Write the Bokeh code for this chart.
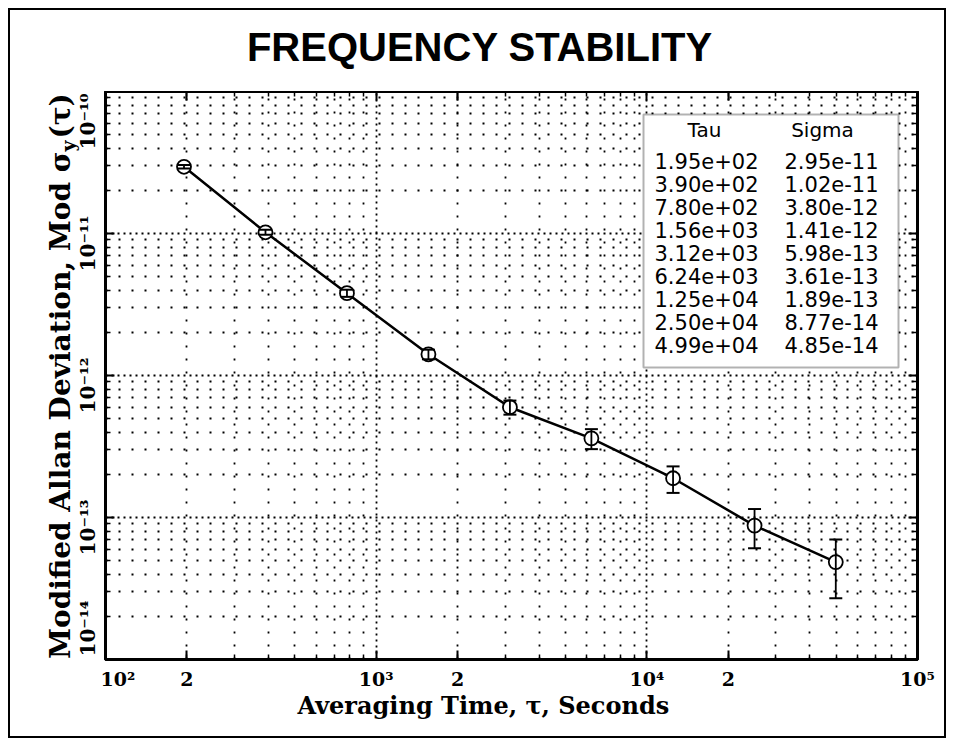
import numpy as np
from bokeh.plotting import figure
from bokeh.layouts import row, column
from bokeh.models import (Range1d, FixedTicker, LogAxis, ColumnDataSource, Whisker, TeeHead,
                          Label, BoxAnnotation, CustomJSTickFormatter, Title)
from bokeh.embed import file_html
from bokeh.resources import INLINE

# ---- data ----
tau = [195, 390, 780, 1560, 3120, 6240, 12500, 25000, 49900]
sigma = [2.95e-11, 1.02e-11, 3.80e-12, 1.41e-12, 5.98e-13, 3.61e-13, 1.89e-13, 8.77e-14, 4.85e-14]
sigma_err = [8.3e-13, 4.1e-13, 2.2e-13, 1.1e-13, 6.8e-14, 5.8e-14, 4.0e-14, 2.7e-14, 2.15e-14]

x_tick_pos = [100, 200, 1000, 2000, 10000, 20000, 100000]
x_tick_labels = ["10²", "2", "10³", "2", "10⁴", "2", "10⁵"]
x_decades = [100, 1000, 10000, 100000]
y_tick_pos = [1e-14, 1e-13, 1e-12, 1e-11, 1e-10]
y_tick_labels = ["10⁻¹⁴", "10⁻¹³", "10⁻¹²", "10⁻¹¹", "10⁻¹⁰"]

title_text = "FREQUENCY STABILITY"
x_label = "Averaging Time, τ, Seconds"
y_label_main = "Modified Allan Deviation, Mod σ"
y_label_sub = "y"
y_label_tail = "(τ)"
table_headers = ["Tau", "Sigma"]

x_minor = [m * 10 ** e for e in range(2, 5) for m in range(2, 10)]
y_minor = [m * 10.0 ** e for e in range(-14, -10) for m in range(2, 10)]

SERIF = "DejaVu Serif"
TFONT = "DejaVu Sans"

# page geometry: 8px margin + 2px border around the layout
O = 10                         # page offset of the layout's content box
W, H = 954 - 2 * O, 746 - 2 * O
STRIP_R = 100                  # page x where the left strip ends
FL, FR, FT, FB = 105, 917, 91, 659   # frame edges, page px

yr = Range1d(1e-14, 1e-10)

# ---- top strip: title ----
tf = figure(width=(O + W) - STRIP_R, height=FT - O, x_range=Range1d(STRIP_R, O + W),
            y_range=Range1d(FT, O), x_axis_location=None, y_axis_location=None,
            output_backend="svg", toolbar_location=None,
            min_border_left=0, min_border_right=0, min_border_top=0, min_border_bottom=0,
            outline_line_color=None, background_fill_color="white", border_fill_color="white")
tf.grid.visible = False
tf.add_layout(Label(x=247, y=46, text=title_text, text_align="left", text_baseline="alphabetic",
                    text_font="Liberation Sans", text_font_style="bold", text_font_size="40px",
                    text_color="black"))

# ---- main plot ----
p = figure(width=(O + W) - STRIP_R, height=(O + H) - FT, x_axis_type="log", y_axis_type="log",
           x_range=Range1d(100, 1e5), y_range=yr,
           output_backend="svg", toolbar_location=None,
           min_border_left=FL - STRIP_R, min_border_right=(O + W) - FR,
           min_border_top=0, min_border_bottom=(O + H) - FB,
           background_fill_color="white", border_fill_color="white")

p.outline_line_color = "black"
p.outline_line_width = 3

blank = CustomJSTickFormatter(code="return ''")

xa = p.xaxis[0]
xa.ticker = FixedTicker(ticks=x_tick_pos, minor_ticks=x_minor)
xa.major_label_overrides = {float(t): l for t, l in zip(x_tick_pos, x_tick_labels)}
xa.major_label_text_font = SERIF
xa.major_label_text_font_style = "bold"
xa.major_label_text_font_size = "19px"
xa.major_label_text_color = "black"
xa.major_label_standoff = 8

p.add_layout(Title(text=x_label, align="left", offset=297 - FL, standoff=-8,
                   text_font=SERIF, text_font_style="bold", text_font_size="24px",
                   text_color="black"), "below")

ya = p.yaxis[0]
ya.ticker = FixedTicker(ticks=y_tick_pos, minor_ticks=y_minor)
ya.formatter = blank
ya.major_label_text_font_size = "0px"
ya.major_label_standoff = 0

ra = LogAxis(ticker=FixedTicker(ticks=y_tick_pos, minor_ticks=y_minor), formatter=blank)
ta = LogAxis(ticker=FixedTicker(ticks=x_tick_pos, minor_ticks=x_minor), formatter=blank)
p.add_layout(ra, "right")
p.add_layout(ta, "above")
for ax in (ra, ta):
    ax.major_label_text_font_size = "0px"
    ax.major_label_standoff = 0

for ax in (xa, ya, ra, ta):
    ax.axis_line_width = 3
    ax.major_tick_in = 9
    ax.major_tick_out = 0
    ax.minor_tick_in = 5
    ax.minor_tick_out = 0
    ax.major_tick_line_width = 2
    ax.minor_tick_line_width = 1.5

# grid
p.xgrid.ticker = FixedTicker(ticks=x_decades, minor_ticks=x_minor)
p.ygrid.ticker = FixedTicker(ticks=y_tick_pos, minor_ticks=y_minor)
for g in (p.xgrid[0], p.ygrid[0]):
    g.grid_line_color = "black"
    g.grid_line_width = 1.8
    g.grid_line_dash = "2 4"
    g.minor_grid_line_color = "black"
    g.minor_grid_line_width = 1.8
    g.minor_grid_line_dash = "2 11"

# data
src = ColumnDataSource(dict(
    tau=tau, sigma=sigma,
    upper=[s + e for s, e in zip(sigma, sigma_err)],
    lower=[s - e for s, e in zip(sigma, sigma_err)],
))
p.line("tau", "sigma", source=src, line_color="black", line_width=2.5)
p.scatter("tau", "sigma", source=src, size=14, marker="circle", fill_color="white",
          line_color="black", line_width=1.8)
wh = Whisker(source=src, base="tau", upper="upper", lower="lower", dimension="height",
             line_color="black", line_width=1.8,
             upper_head=TeeHead(size=13, line_width=2, line_color="black"),
             lower_head=TeeHead(size=13, line_width=2, line_color="black"),
             level="overlay")
p.add_layout(wh)

# frame-relative screen coordinates
def sx(cx):
    return cx - FL
def sy(cy):
    return FB - cy

# table box
box = BoxAnnotation(left=sx(643), right=sx(898), top=sy(114), bottom=sy(367),
                    left_units="screen", right_units="screen", top_units="screen", bottom_units="screen",
                    fill_color="white", fill_alpha=1.0, line_color="black", line_width=2)
p.add_layout(box)

for hdr, cx in zip(table_headers, (704, 822)):
    p.add_layout(Label(x=sx(cx), y=sy(129), x_units="screen", y_units="screen", text=hdr,
                       text_align="center", text_baseline="middle", text_font=TFONT,
                       text_font_size="20px", text_color="black"))
for i, (t, s) in enumerate(zip(tau, sigma)):
    cy = 160 + i * 23.1
    p.add_layout(Label(x=sx(706), y=sy(cy), x_units="screen", y_units="screen", text=f"{t:.2e}",
                       text_align="center", text_baseline="middle", text_font=TFONT,
                       text_font_size="21px", text_color="black"))
    p.add_layout(Label(x=sx(831), y=sy(cy), x_units="screen", y_units="screen", text=f"{s:.2e}",
                       text_align="center", text_baseline="middle", text_font=TFONT,
                       text_font_size="21px", text_color="black"))

# ---- left strip: y tick labels and y axis title ----
lf = figure(width=STRIP_R - O, height=H, x_range=Range1d(O, STRIP_R), y_range=yr, y_axis_type="log",
            x_axis_location=None, y_axis_location=None,
            output_backend="svg", toolbar_location=None,
            min_border_left=0, min_border_right=0, min_border_top=FT - O, min_border_bottom=(O + H) - FB,
            outline_line_color=None, background_fill_color="white", border_fill_color="white")
lf.grid.visible = False

ymax, ymin = max(y_tick_pos), min(y_tick_pos)
for t, lab in zip(y_tick_pos, y_tick_labels):
    if t == ymax:
        align, off = "right", -2
    elif t == ymin:
        align, off = "left", 3
    else:
        align, off = "center", -10
    lf.add_layout(Label(x=87, y=t, text=lab, angle=np.pi / 2, text_align=align,
                        text_baseline="middle", y_offset=off,
                        text_font=SERIF, text_font_style="bold", text_font_size="20px",
                        text_color="black"))

y_anchor = 151
lf.add_layout(Label(x=60, y=sy(y_anchor), y_units="screen",
                    text=y_label_main, angle=np.pi / 2, text_align="right", text_baseline="middle",
                    text_font=SERIF, text_font_style="bold", text_font_size="28px",
                    text_color="black"))
lf.add_layout(Label(x=67, y=sy(y_anchor), y_units="screen",
                    text=y_label_sub, angle=np.pi / 2, text_align="left", text_baseline="middle",
                    text_font=SERIF, text_font_style="bold", text_font_size="19px",
                    text_color="black"))
lf.add_layout(Label(x=60, y=sy(y_anchor - 13), y_units="screen",
                    text=y_label_tail, angle=np.pi / 2, text_align="left", text_baseline="middle",
                    text_font=SERIF, text_font_style="bold", text_font_size="28px",
                    text_color="black"))

layout = row(lf, column(tf, p, spacing=0), spacing=0)
layout.styles = {"margin": "8px", "border": "2px solid black", "box-sizing": "content-box",
                 "width": f"{W}px", "height": f"{H}px"}

open("out.html", "w").write(file_html(layout, INLINE))
